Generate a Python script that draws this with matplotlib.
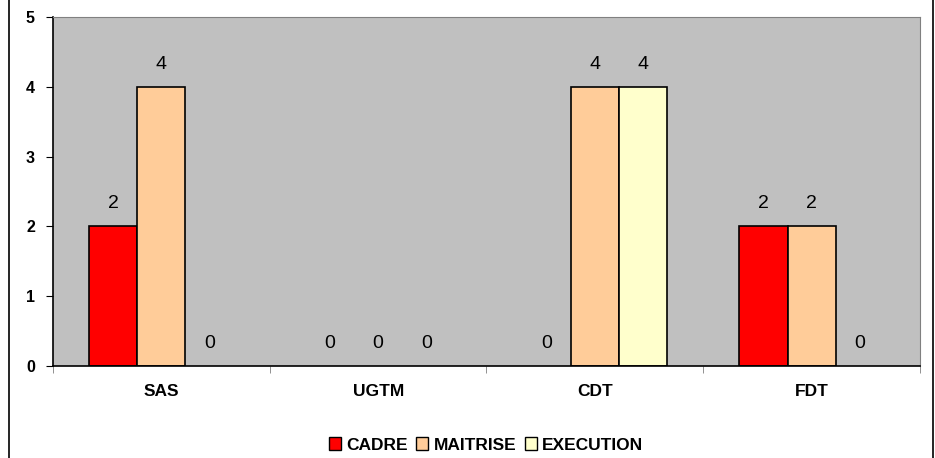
import numpy as np
import matplotlib.pyplot as plt
from matplotlib.patches import Patch
from matplotlib.lines import Line2D

plt.rcParams['font.family'] = ['Liberation Sans', 'DejaVu Sans']

categories = ['SAS', 'UGTM', 'CDT', 'FDT']
series_names = ['CADRE', 'MAITRISE', 'EXECUTION']
cadre = [2, 0, 0, 2]
maitrise = [4, 0, 4, 2]
execution = [0, 0, 4, 0]
colors = ['#FF0000', '#FFCC99', '#FFFFCC']

fig = plt.figure(figsize=(9.35, 4.58), dpi=100)
ax = fig.add_axes([53/935, 1-366/458, (920-53)/935, (366-17)/458])
ax.set_facecolor('#C0C0C0')

x = np.arange(len(categories))
w = 0.222
for i, vals in enumerate([cadre, maitrise, execution]):
    pos = x + (i - 1) * w
    bars = ax.bar(pos, vals, w, color=colors[i], edgecolor='black', linewidth=1.2,
                  label=series_names[i])
    for b, v in zip(bars, vals):
        if v == 0:
            b.set_visible(False)
        ax.text(b.get_x() + b.get_width() / 2, v + 0.2, str(v),
                ha='center', va='bottom', fontsize=14)

ax.set_xlim(-0.5, len(categories) - 0.5)
ax.set_ylim(0, 5)
ax.set_yticks(range(6))
ax.set_yticklabels([str(i) for i in range(6)], fontsize=11.5, fontweight='bold')
ax.set_xticks(x)
ax.set_xticklabels(categories, fontsize=12.5, fontweight='bold')
ax.tick_params(axis='x', length=0, pad=13)
ax.set_xticks(np.arange(-0.5, len(categories)), minor=True)
ax.tick_params(axis='x', which='minor', length=5, direction='out', color='#808080')
ax.tick_params(axis='y', length=5, direction='out', pad=8)

for s in ['top', 'right']:
    ax.spines[s].set_color('#808080')
for s in ['left', 'bottom']:
    ax.spines[s].set_color('black')
    ax.spines[s].set_linewidth(1.2)

handles = [Patch(facecolor=c, edgecolor='black', linewidth=1) for c in colors]
fig.legend(handles, series_names, loc='center', bbox_to_anchor=(486/935, 1-445/458),
           ncol=3, frameon=False, prop={'weight': 'bold', 'size': 12.5},
           handlelength=0.7, handleheight=0.7, handletextpad=0.3, columnspacing=0.5)

fig.add_artist(Line2D([9/935, 9/935], [0, 1], color='black', linewidth=1.2))
fig.add_artist(Line2D([933/935, 933/935], [0, 1], color='black', linewidth=1.2))

fig.savefig('out.png', dpi=100)
